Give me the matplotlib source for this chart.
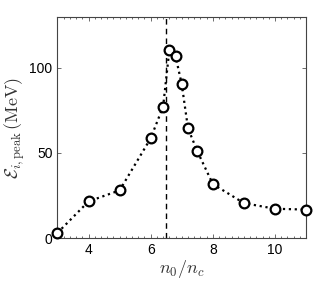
import matplotlib
matplotlib.use("Agg")
import matplotlib.pyplot as plt
from matplotlib.ticker import MultipleLocator

plt.rcParams['mathtext.fontset'] = 'cm'
plt.rcParams['font.family'] = ['Liberation Sans', 'DejaVu Sans']

n_ratio = [3, 4, 5, 6, 6.4, 6.6, 6.8, 7.0, 7.2, 7.5, 8, 9, 10, 11]
energy = [3, 21.5, 28, 58.6, 77.3, 110.4, 106.9, 90.3, 64.5, 51, 31.7, 20.5, 17.2, 16.7]
threshold = 6.5
xticks = [4, 6, 8, 10]
yticks = [0, 50, 100]

fig = plt.figure(figsize=(3.32, 2.81), dpi=100)
ax = fig.add_axes([0.173, 0.153, 0.749, 0.787])

ax.plot(n_ratio, energy, linestyle=':', color='black', linewidth=1.6,
        marker='o', markersize=7, markerfacecolor='white',
        markeredgecolor='black', markeredgewidth=1.6, zorder=3, clip_on=False)
ax.axvline(threshold, color='black', linestyle='--', linewidth=1.0,
           dashes=(4, 3), zorder=2)

ax.set_xlim(3, 11)
ax.set_ylim(0, 130)
ax.set_xticks(xticks)
ax.set_yticks(yticks)
ax.xaxis.set_minor_locator(MultipleLocator(0.2))
ax.tick_params(which='both', direction='in', top=True, right=True,
               labelsize=10, width=0.6, color='#555555')
ax.tick_params(which='major', length=3)
ax.tick_params(which='minor', length=1.5)
for s in ax.spines.values():
    s.set_linewidth(0.8)
    s.set_color('#444444')

ax.set_xlabel(r'$n_0/n_c$', fontsize=13, labelpad=1, color='#333333')
ax.set_ylabel(r'$\mathcal{E}_{i,\mathrm{peak}}\,(\mathrm{MeV})$', fontsize=13,
              labelpad=2, color='#333333')

fig.savefig('out.png', dpi=100)
